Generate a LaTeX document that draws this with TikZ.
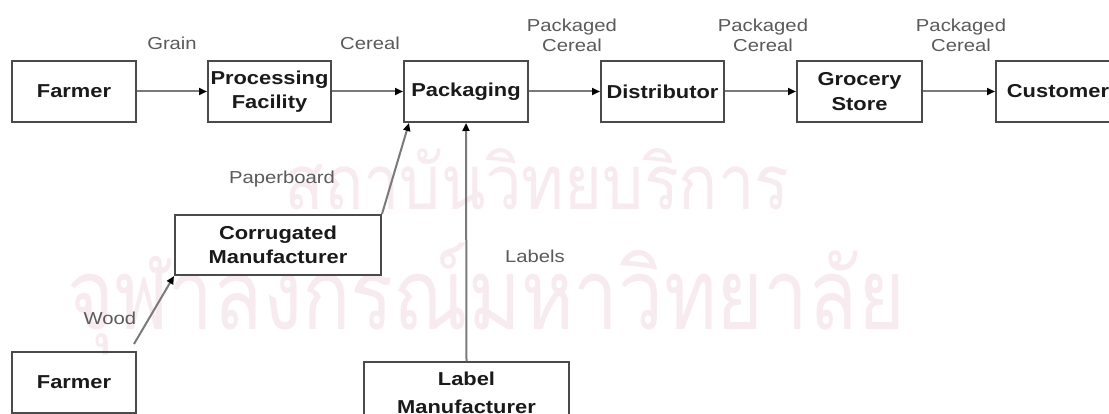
\documentclass[tikz,border=0pt]{standalone}
\usepackage{fontspec}
\usepackage{graphicx}
\setmainfont{Liberation Sans}[FakeStretch=1.17]
\newfontfamily\thaiwm[Script=Thai]{Loma}
\usetikzlibrary{arrows.meta}
\definecolor{boxline}{HTML}{4A4A4A}
\definecolor{flowline}{HTML}{7A7A7A}
\definecolor{flowtext}{HTML}{5A5A5A}
\definecolor{boxtext}{HTML}{1A1A1A}
\definecolor{wmpink}{RGB}{248,235,240}
\tikzset{
  stage/.style={draw=boxline, line width=2pt, fill=none, inner sep=0pt,
    minimum height=61pt, align=center, text=boxtext,
    font=\fontsize{18.7}{24.5}\selectfont\bfseries},
  flow/.style={draw=flowline, line width=2pt,
    -{Triangle[length=8pt,width=7pt,color=black]}},
  goods/.style={text=flowtext, align=center, inner sep=0pt,
    font=\fontsize{17.3}{20}\selectfont},
  wmark/.style={text=wmpink, inner sep=0pt, anchor=base}
}
\begin{document}
\begin{tikzpicture}[x=1pt, y=-1pt]
\useasboundingbox (0,0) rectangle (1109,414);
\fill[white] (0,0) rectangle (1109,414);

% background seal text
\node[wmark] (wm1) at (537,210) {\scalebox{1}[1.17]{\resizebox{505pt}{!}{\thaiwm\fontsize{80}{80}\selectfont สถาบันวิทยบริการ}}};
\node[wmark] (wm2) at (486,330) {\scalebox{1}[1.23]{\resizebox{838pt}{!}{\thaiwm\fontsize{80}{80}\selectfont จุฬาลงกรณ์มหาวิทยาลัย}}};

% cereal supply chain
\node[stage, minimum width=124pt] (farmA) at (74,91.5) {Farmer};
\node[stage, minimum width=123pt] (proc)  at (269.5,91.5) {Processing\\Facility};
\node[stage, minimum width=124pt] (pack)  at (466,91.5) {Packaging};
\node[stage, minimum width=123pt] (dist)  at (662.5,91.5) {Distributor};
\node[stage, minimum width=125pt] (groc)  at (859.5,91.5) {Grocery\\Store};
\node[stage, minimum width=124pt] (cust)  at (1058,91.5) {Customer};

% suppliers of packaging material
\node[stage, minimum width=206pt, minimum height=60pt] (corr) at (278,245) {Corrugated\\Manufacturer};
\node[stage, minimum width=124pt] (farmB) at (74,382.5) {Farmer};
\node[stage, minimum width=205pt, minimum height=62pt,
      font=\fontsize{18.7}{28}\selectfont\bfseries] (lblm) at (466.5,393) {Label\\Manufacturer};

% flows
\draw[flow] (farmA.east) -- (proc.west);
\draw[flow] (proc.east) -- (pack.west);
\draw[flow] (pack.east) -- (dist.west);
\draw[flow] (dist.east) -- (groc.west);
\draw[flow] (groc.east) -- (cust.west);
\draw[flow] (corr.north east) -- ([xshift=6pt]pack.south west);
\draw[flow] (lblm.north) -- (pack.south);
\draw[flow] ([xshift=-3pt, yshift=7pt]farmB.north east) -- (corr.south west);

% goods on each flow
\node[goods] (gGrain) at (172,43) {Grain};
\node[goods] (gCereal) at (370,43) {Cereal};
\node[goods] (gPk1) at (572,35) {Packaged\\Cereal};
\node[goods] (gPk2) at (763,35) {Packaged\\Cereal};
\node[goods] (gPk3) at (961,35) {Packaged\\Cereal};
\node[goods] (gPaper) at (282,179) {Paperboard};
\node[goods] (gLabels) at (535,256) {Labels};
\node[goods] (gWood) at (110,318) {Wood};
\end{tikzpicture}
\end{document}
